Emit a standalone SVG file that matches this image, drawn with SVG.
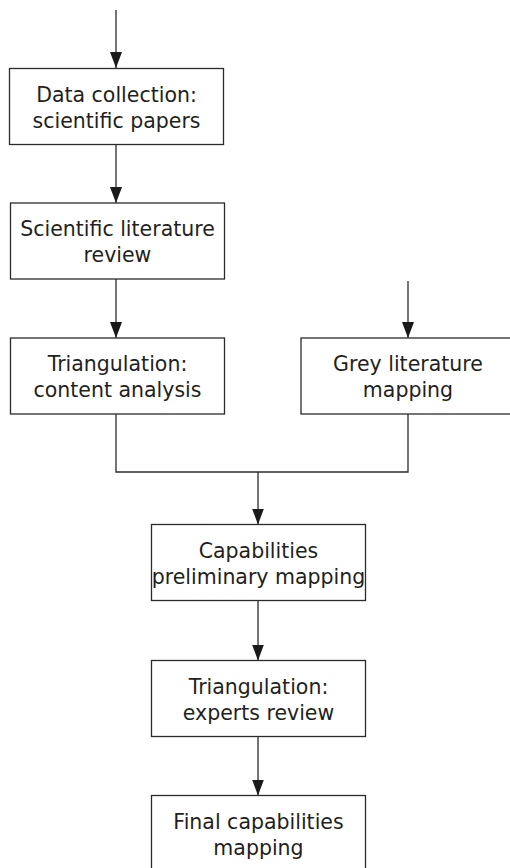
<svg xmlns="http://www.w3.org/2000/svg" width="510" height="868" viewBox="0 0 510 868">
<style>
.box{fill:#fff;stroke:#2b2b2b;stroke-width:1.3}
.lbl{font-family:"DejaVu Sans",Verdana,sans-serif;font-size:20.5px;fill:#231f20;text-anchor:middle}
.con{fill:none;stroke:#2b2b2b;stroke-width:1.3}
</style>
<defs>
<marker id="ah" markerUnits="userSpaceOnUse" markerWidth="16" markerHeight="12" viewBox="0 0 16 12" refX="16" refY="6" orient="auto">
<path d="M0,0 L16,6 L0,12 Z" fill="#1a1a1a"/>
</marker>
</defs>
<rect width="510" height="868" fill="#fff"/>
<g id="connectors">
<line class="con" x1="116" y1="10" x2="116" y2="68" marker-end="url(#ah)"/>
<line class="con" x1="116" y1="144.5" x2="116" y2="203" marker-end="url(#ah)"/>
<line class="con" x1="116" y1="279" x2="116" y2="338" marker-end="url(#ah)"/>
<line class="con" x1="408" y1="281" x2="408" y2="338" marker-end="url(#ah)"/>
<path class="con" d="M116,414 V472 H408 V414"/>
<line class="con" x1="258" y1="472" x2="258" y2="524.5" marker-end="url(#ah)"/>
<line class="con" x1="258" y1="600.5" x2="258" y2="660.5" marker-end="url(#ah)"/>
<line class="con" x1="258" y1="736.5" x2="258" y2="795.5" marker-end="url(#ah)"/>
</g>
<g id="n1"><rect class="box" x="9.5" y="68.5" width="214" height="76"/><text class="lbl" x="116.5" y="101.5">Data collection:</text><text class="lbl" x="116.5" y="127.5">scientific papers</text></g>
<g id="n2"><rect class="box" x="10.5" y="203" width="214" height="76"/><text class="lbl" x="117.5" y="236">Scientific literature</text><text class="lbl" x="117.5" y="262">review</text></g>
<g id="n3"><rect class="box" x="10.5" y="338" width="214" height="76"/><text class="lbl" x="117.5" y="371">Triangulation:</text><text class="lbl" x="117.5" y="397">content analysis</text></g>
<g id="n4"><rect class="box" x="301" y="338" width="214" height="76"/><text class="lbl" x="408" y="371">Grey literature</text><text class="lbl" x="408" y="397">mapping</text></g>
<g id="n5"><rect class="box" x="151.5" y="524.5" width="214" height="76"/><text class="lbl" x="258.5" y="557.5">Capabilities</text><text class="lbl" x="258.5" y="583.5">preliminary mapping</text></g>
<g id="n6"><rect class="box" x="151.5" y="660.5" width="214" height="76"/><text class="lbl" x="258.5" y="693.5">Triangulation:</text><text class="lbl" x="258.5" y="719.5">experts review</text></g>
<g id="n7"><rect class="box" x="151.5" y="795.5" width="214" height="76"/><text class="lbl" x="258.5" y="828.5">Final capabilities</text><text class="lbl" x="258.5" y="854.5">mapping</text></g>
</svg>
